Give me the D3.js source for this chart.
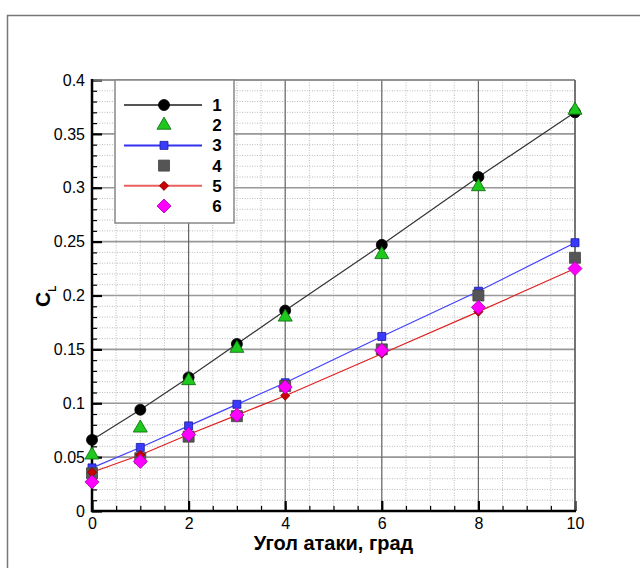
<!DOCTYPE html>
<html lang="ru">
<head>
  <meta charset="UTF-8" />
  <title>C_L vs angle of attack</title>
  <script src="https://d3js.org/d3.v7.min.js"></script>
  <style>
    body { margin: 0; background: #fff; }
    svg text { font-family: "Liberation Sans", Arial, sans-serif; }
  </style>
</head>
<body>
  <div id="chart"></div>
  <script>
    // data
    var alpha = [0, 1, 2, 3, 4, 6, 8, 10];
    var cl1 = [0.066, 0.094, 0.124, 0.155, 0.186, 0.247, 0.310, 0.370];
    var cl2 = [0.052, 0.077, 0.121, 0.151, 0.180, 0.238, 0.301, 0.372];
    var cl3 = [0.040, 0.059, 0.079, 0.099, 0.119, 0.162, 0.204, 0.249];
    var cl4 = [0.035, 0.049, 0.069, 0.088, 0.116, 0.150, 0.200, 0.235];
    var cl5 = [0.036, 0.052, 0.071, 0.089, 0.107, 0.146, 0.185, 0.225];
    var cl6 = [0.027, 0.046, 0.071, 0.089, 0.115, 0.149, 0.189, 0.225];
    var seriesNames = ['1', '2', '3', '4', '5', '6'];
    var xTicks = [0, 2, 4, 6, 8, 10];
    var yTicks = [0, 0.05, 0.1, 0.15, 0.2, 0.25, 0.3, 0.35, 0.4];

    // diamonds are squares turned by 45 degrees
    var series = [
      { name: seriesNames[0], values: cl1, line: '#333', legendLine: '#555', shape: d3.symbolCircle, size: 95, rot: 0, fill: '#000', stroke: '#000' },
      { name: seriesNames[1], values: cl2, line: null, shape: d3.symbolTriangle, size: 85, rot: 0, fill: '#1ec81e', stroke: '#0a640a' },
      { name: seriesNames[2], values: cl3, line: '#4040ff', legendLine: '#3030ee', shape: d3.symbolSquare, size: 64, rot: 0, fill: '#3a3aff', stroke: '#1a1a99' },
      { name: seriesNames[3], values: cl4, line: null, shape: d3.symbolSquare, size: 121, rot: 0, fill: '#555', stroke: '#444' },
      { name: seriesNames[4], values: cl5, line: '#e02020', legendLine: '#e86060', shape: d3.symbolSquare, size: 42, rot: 45, fill: '#cc0000', stroke: '#800000' },
      { name: seriesNames[5], values: cl6, line: null, shape: d3.symbolSquare, size: 98, rot: 45, fill: '#ff00ff', stroke: '#b000b0' }
    ];

    var W = 640, H = 568;
    var svg = d3.select('#chart').append('svg')
      .attr('width', W).attr('height', H);

    // outer frame
    svg.append('rect')
      .attr('x', 7.5).attr('y', 15.5)
      .attr('width', 700).attr('height', 700)
      .attr('fill', 'none').attr('stroke', '#777').attr('stroke-width', 1.5);

    var x = d3.scaleLinear().domain([0, 10]).range([92, 575]);
    var y = d3.scaleLinear().domain([0, 0.4]).range([511, 80]);

    var grid = svg.append('g');
    // minor grid
    d3.range(0.5, 10, 0.5).forEach(function(v) {
      grid.append('line')
        .attr('x1', x(v)).attr('x2', x(v)).attr('y1', y(0)).attr('y2', y(0.4))
        .attr('stroke', '#bbb').attr('stroke-width', 1).attr('stroke-dasharray', '1,1.5');
    });
    d3.range(1, 40).forEach(function(i) {
      var v = i / 100;
      grid.append('line')
        .attr('x1', x(0)).attr('x2', x(10)).attr('y1', y(v)).attr('y2', y(v))
        .attr('stroke', '#bbb').attr('stroke-width', 1).attr('stroke-dasharray', '1,1.5');
    });
    // major grid
    yTicks.slice(1).forEach(function(v) {
      grid.append('line')
        .attr('x1', x(0)).attr('x2', x(10)).attr('y1', y(v)).attr('y2', y(v))
        .attr('stroke', '#999').attr('stroke-width', 1.6);
    });
    xTicks.slice(1).forEach(function(v) {
      grid.append('line')
        .attr('x1', x(v)).attr('x2', x(v)).attr('y1', y(0)).attr('y2', y(0.4))
        .attr('stroke', '#666').attr('stroke-width', 1.2);
    });

    // axes with inward ticks
    svg.append('g').attr('transform', 'translate(0,' + y(0) + ')')
      .call(d3.axisBottom(x).tickValues(d3.range(0, 10.01, 0.5)).tickSize(-5).tickFormat(''))
      .call(function(g) {
        g.select('.domain').remove();
        g.selectAll('line').attr('stroke', '#000').attr('stroke-width', 1.2);
      });
    svg.append('g').attr('transform', 'translate(0,' + y(0) + ')')
      .call(d3.axisBottom(x).tickValues(xTicks).tickSize(-10).tickPadding(7))
      .call(function(g) {
        g.select('.domain').remove();
        g.selectAll('line').attr('stroke', '#000').attr('stroke-width', 2.2);
        g.selectAll('text').attr('font-size', 16).attr('fill', '#000');
      });

    svg.append('g').attr('transform', 'translate(' + x(0) + ',0)')
      .call(d3.axisLeft(y).tickValues(d3.range(0, 41).map(function(i) { return i / 100; })).tickSize(-5).tickFormat(''))
      .call(function(g) {
        g.select('.domain').remove();
        g.selectAll('line').attr('stroke', '#000').attr('stroke-width', 1.2);
      });
    svg.append('g').attr('transform', 'translate(' + x(0) + ',0)')
      .call(d3.axisLeft(y).tickValues(yTicks).tickSize(-10).tickPadding(7).tickFormat(function(d) { return String(+d.toFixed(2)); }))
      .call(function(g) {
        g.select('.domain').remove();
        g.selectAll('line').attr('stroke', '#000').attr('stroke-width', 2.2);
        g.selectAll('text').attr('font-size', 16).attr('fill', '#000');
      });

    // plot frame
    svg.append('line').attr('x1', x(0)).attr('x2', x(10)).attr('y1', y(0.4)).attr('y2', y(0.4))
      .attr('stroke', '#888').attr('stroke-width', 1.5);
    svg.append('line').attr('x1', x(10)).attr('x2', x(10)).attr('y1', y(0.4)).attr('y2', y(0))
      .attr('stroke', '#666').attr('stroke-width', 1.5);
    svg.append('line').attr('x1', x(0)).attr('x2', x(0)).attr('y1', y(0.4) - 1).attr('y2', y(0) + 1)
      .attr('stroke', '#000').attr('stroke-width', 2.5);
    svg.append('line').attr('x1', x(0) - 1).attr('x2', x(10) + 1).attr('y1', y(0)).attr('y2', y(0))
      .attr('stroke', '#000').attr('stroke-width', 2.5);

    // axis titles
    svg.append('text')
      .attr('x', (x(0) + x(10)) / 2).attr('y', 550)
      .attr('text-anchor', 'middle').attr('font-size', 20).attr('font-weight', 'bold')
      .text('Угол атаки, град');
    var yt = svg.append('text')
      .attr('transform', 'translate(50,307) rotate(-90)')
      .attr('text-anchor', 'start').attr('font-size', 21).attr('font-weight', 'bold');
    yt.append('tspan').text('C');
    yt.append('tspan').attr('font-size', 10).attr('dy', 6).text('L');

    // series
    var lineGen = d3.line()
      .x(function(d, i) { return x(alpha[i]); })
      .y(function(d) { return y(d); });

    series.forEach(function(s) {
      if (s.line) {
        svg.append('path').datum(s.values)
          .attr('d', lineGen).attr('fill', 'none')
          .attr('stroke', s.line).attr('stroke-width', 1.2);
      }
    });
    series.forEach(function(s) {
      var sym = d3.symbol().type(s.shape).size(s.size);
      svg.append('g').selectAll('path').data(s.values).join('path')
        .attr('transform', function(d, i) { return 'translate(' + x(alpha[i]) + ',' + y(d) + ') rotate(' + s.rot + ')'; })
        .attr('d', sym)
        .attr('fill', s.fill).attr('stroke', s.stroke).attr('stroke-width', 0.8);
    });

    // legend
    var lg = svg.append('g');
    lg.append('rect')
      .attr('x', 115).attr('y', 80).attr('width', 119).attr('height', 143)
      .attr('fill', '#fff').attr('stroke', '#888').attr('stroke-width', 1.5);
    series.forEach(function(s, i) {
      var ry = 105 + i * 20.2;
      if (s.line) {
        lg.append('line').attr('x1', 124).attr('x2', 202).attr('y1', ry).attr('y2', ry)
          .attr('stroke', s.legendLine).attr('stroke-width', 2);
      }
      lg.append('path')
        .attr('transform', 'translate(164,' + ry + ') rotate(' + s.rot + ')')
        .attr('d', d3.symbol().type(s.shape).size(s.size))
        .attr('fill', s.fill).attr('stroke', s.stroke).attr('stroke-width', 0.8);
      lg.append('text').attr('x', 217).attr('y', ry + 6)
        .attr('text-anchor', 'middle').attr('font-size', 17).attr('font-weight', 'bold')
        .text(s.name);
    });
  </script>
</body>
</html>
